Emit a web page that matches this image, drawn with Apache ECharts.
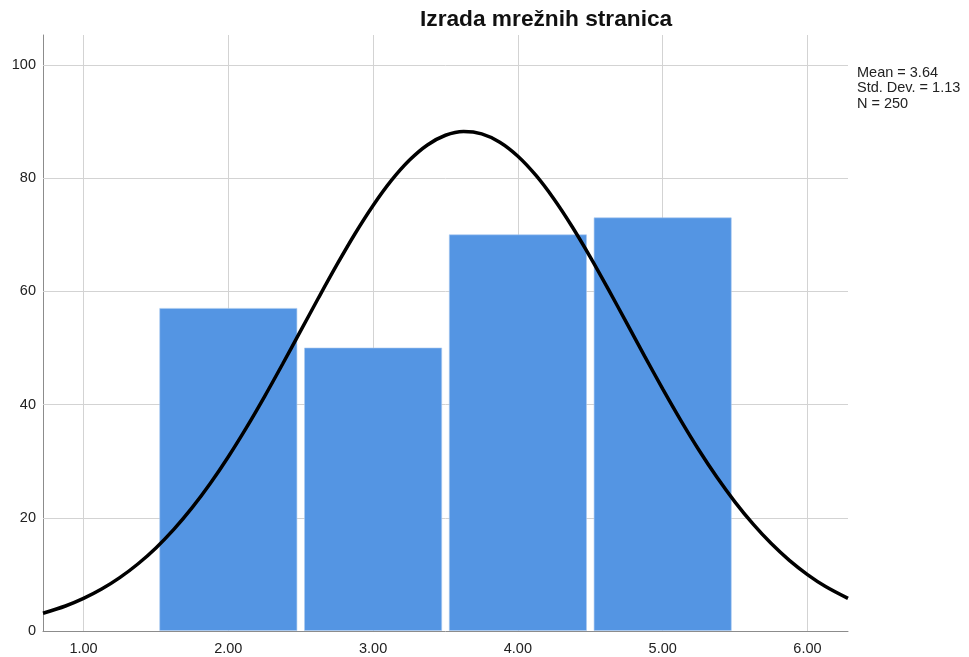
<!DOCTYPE html>
<html>
<head>
<meta charset="utf-8">
<script src="https://cdn.jsdelivr.net/npm/echarts@6/dist/echarts.min.js"></script>
<style>
html,body{margin:0;padding:0;background:#fff;}
#chart{width:969px;height:657px;}
</style>
</head>
<body>
<div id="chart"></div>
<script>
// ---- data ----
const chartTitle = 'Izrada mrežnih stranica';
const binLower = [1.5, 2.5, 3.5, 4.5];
const binUpper = [2.5, 3.5, 4.5, 5.5];
const counts = [57, 50, 70, 73];
const curveX = [0.72, 0.875, 1.0, 1.125, 1.25, 1.375, 1.5, 1.625, 1.75, 1.875, 2.0, 2.125, 2.25, 2.375, 2.5, 2.625, 2.75, 2.875, 3.0, 3.125, 3.25, 3.375, 3.5, 3.625, 3.75, 3.875, 4.0, 4.125, 4.25, 4.375, 4.5, 4.625, 4.75, 4.875, 5.0, 5.125, 5.25, 5.375, 5.5, 5.625, 5.75, 5.875, 6.0, 6.125, 6.28];
const curveY = [3.13, 4.42, 5.76, 7.41, 9.43, 11.84, 14.68, 18.00, 21.79, 26.06, 30.79, 35.93, 41.42, 47.17, 53.06, 58.96, 64.72, 70.19, 75.18, 79.56, 83.16, 85.87, 87.59, 88.25, 87.84, 86.37, 83.89, 80.49, 76.29, 71.43, 66.07, 60.36, 54.48, 48.57, 42.78, 37.22, 31.98, 27.15, 22.78, 18.87, 15.44, 12.48, 9.97, 7.86, 5.76];
const xTicks = [1, 2, 3, 4, 5, 6];
const yTicks = [0, 20, 40, 60, 80, 100];
const statsLines = ['Mean = 3.64', 'Std. Dev. = 1.13', 'N = 250'];

const chart = echarts.init(document.getElementById('chart'), null, {renderer: 'canvas'});
const titleFont = '"Liberation Sans", Arial, sans-serif';
const smallFont = '"Liberation Sans", Arial, sans-serif';
const gridColor = '#d3d3d3';

const option = {
  animation: false,
  backgroundColor: '#fff',
  grid: {left: 43, top: 35, right: 121, bottom: 26, containLabel: false},
  xAxis: {
    type: 'value', min: 0.72, max: 6.28,
    axisLine: {show: true, lineStyle: {color: '#8c8c8c', width: 1}},
    axisTick: {show: false},
    splitLine: {show: false},
    axisLabel: {customValues: xTicks, formatter: v => v.toFixed(2), color: '#222', fontFamily: smallFont, fontSize: 14.5, margin: 10}
  },
  yAxis: {
    type: 'value', min: 0, max: 105.3,
    axisLine: {show: true, lineStyle: {color: '#8c8c8c', width: 1}},
    axisTick: {show: false},
    splitLine: {show: false},
    axisLabel: {customValues: yTicks, color: '#222', fontFamily: smallFont, fontSize: 14.5, margin: 7}
  },
  graphic: [
    {type: 'text', left: 420, top: 8, style: {text: chartTitle, font: 'bold 22.7px ' + titleFont, fill: '#111'}},
    {type: 'text', left: 857, top: 65, style: {text: statsLines.join('\n'), font: '14.5px ' + smallFont, fill: '#222', lineHeight: 15.5}}
  ],
  series: [
    {
      type: 'line', data: [], silent: true, zlevel: 0, z: 1,
      markLine: {
        silent: true, symbol: 'none', label: {show: false},
        lineStyle: {color: gridColor, width: 1, type: 'solid'},
        data: xTicks.map(v => ({xAxis: v})).concat(yTicks.filter(v => v > 0).map(v => ({yAxis: v})))
      }
    },
    {
      type: 'custom', zlevel: 1, z: 2,
      data: binLower.map((lo, i) => [lo, binUpper[i], counts[i]]),
      encode: {x: [0, 1], y: 2},
      renderItem: function (params, api) {
        const p0 = api.coord([api.value(0), api.value(2)]);
        const p1 = api.coord([api.value(1), 0]);
        const inset = 3.8;
        return {
          type: 'rect',
          shape: {x: p0[0] + inset, y: p0[1], width: p1[0] - p0[0] - 2 * inset, height: p1[1] - p0[1] - 0.5},
          style: {fill: '#5495e3', stroke: '#a9c9f0', lineWidth: 0.6}
        };
      }
    },
    {
      type: 'line', zlevel: 1, z: 3, smooth: 0.3, symbol: 'none',
      data: curveX.map((x, i) => [x, curveY[i]]),
      lineStyle: {color: '#000', width: 3.5}
    }
  ]
};
chart.setOption(option);
</script>
</body>
</html>
